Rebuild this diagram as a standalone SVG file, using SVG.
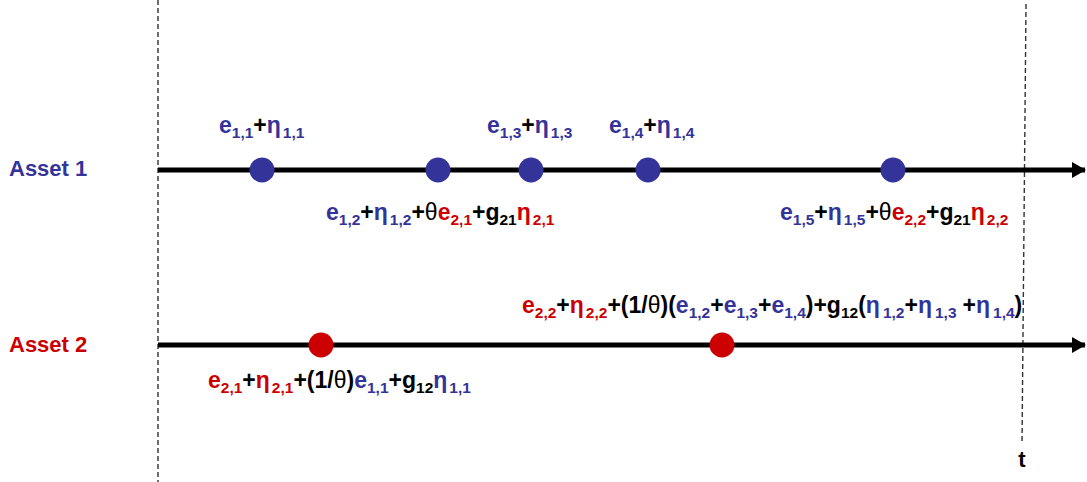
<svg xmlns="http://www.w3.org/2000/svg" width="1087" height="482" viewBox="0 0 1087 482">
<style>
text{font-family:"Liberation Sans",Arial,sans-serif;font-weight:bold;font-size:23px;fill:#000}
.lab{font-size:22px}
.b{fill:#333399}
.r{fill:#CC0000}
.k{fill:#000}
.s{font-size:15.5px}
.th{font-weight:normal}
.dot1{fill:#333399}
.dot2{fill:#CC0000}
.axis{stroke:#000;stroke-width:5;fill:none}
.guide{stroke:#333;stroke-width:1.4;stroke-dasharray:5 3;fill:none}
</style>
<defs>
<marker id="arr" markerWidth="14" markerHeight="16" refX="13" refY="8" orient="auto" markerUnits="userSpaceOnUse">
<path d="M0,0 L14,8 L0,16 Z" fill="#000"/>
</marker>
</defs>
<g id="guides">
<line class="guide" x1="158" y1="0" x2="158" y2="482"/>
<line class="guide" x1="1026" y1="4" x2="1022" y2="444"/>
</g>
<g id="connectors">
<line class="axis" x1="158" y1="170" x2="1085" y2="170" marker-end="url(#arr)"/>
<line class="axis" x1="158" y1="345" x2="1085" y2="345" marker-end="url(#arr)"/>
</g>
<g id="asset1-label"><text x="9" y="176" class="b lab">Asset 1</text></g>
<g id="asset2-label"><text x="9" y="352" class="r lab">Asset 2</text></g>
<g id="t-label"><text x="1022" y="467" text-anchor="middle" class="lab">t</text></g>

<g id="a1-p1">
<circle class="dot1" cx="262" cy="170" r="12.5"/>
<text x="219" y="133"><tspan class="b">e</tspan><tspan class="b s" dy="5">1,1</tspan><tspan dy="-5">+</tspan><tspan class="b">η</tspan><tspan class="b s" dy="5" dx="2">1,1</tspan></text>
</g>
<g id="a1-p2">
<circle class="dot1" cx="438" cy="170" r="12.5"/>
<text x="326" y="220"><tspan class="b">e</tspan><tspan class="b s" dy="5">1,2</tspan><tspan dy="-5">+</tspan><tspan class="b">η</tspan><tspan class="b s" dy="5" dx="2">1,2</tspan><tspan dy="-5">+</tspan><tspan class="th">θ</tspan><tspan class="r">e</tspan><tspan class="r s" dy="5">2,1</tspan><tspan dy="-5">+g</tspan><tspan class="s" dy="5">21</tspan><tspan class="r" dy="-5">η</tspan><tspan class="r s" dy="5" dx="2">2,1</tspan></text>
</g>
<g id="a1-p3">
<circle class="dot1" cx="531" cy="170" r="12.5"/>
<text x="487" y="133"><tspan class="b">e</tspan><tspan class="b s" dy="5">1,3</tspan><tspan dy="-5">+</tspan><tspan class="b">η</tspan><tspan class="b s" dy="5" dx="2">1,3</tspan></text>
</g>
<g id="a1-p4">
<circle class="dot1" cx="648" cy="170" r="12.5"/>
<text x="609" y="133"><tspan class="b">e</tspan><tspan class="b s" dy="5">1,4</tspan><tspan dy="-5">+</tspan><tspan class="b">η</tspan><tspan class="b s" dy="5" dx="2">1,4</tspan></text>
</g>
<g id="a1-p5">
<circle class="dot1" cx="893" cy="170" r="12.5"/>
<text x="780" y="220"><tspan class="b">e</tspan><tspan class="b s" dy="5">1,5</tspan><tspan dy="-5">+</tspan><tspan class="b">η</tspan><tspan class="b s" dy="5" dx="2">1,5</tspan><tspan dy="-5">+</tspan><tspan class="th">θ</tspan><tspan class="r">e</tspan><tspan class="r s" dy="5">2,2</tspan><tspan dy="-5">+g</tspan><tspan class="s" dy="5">21</tspan><tspan class="r" dy="-5">η</tspan><tspan class="r s" dy="5" dx="2">2,2</tspan></text>
</g>
<g id="a2-p1">
<circle class="dot2" cx="321" cy="345" r="12.5"/>
<text x="208" y="388"><tspan class="r">e</tspan><tspan class="r s" dy="5">2,1</tspan><tspan dy="-5">+</tspan><tspan class="r">η</tspan><tspan class="r s" dy="5" dx="2">2,1</tspan><tspan dy="-5">+(1/</tspan><tspan class="th">θ</tspan><tspan>)</tspan><tspan class="b">e</tspan><tspan class="b s" dy="5">1,1</tspan><tspan dy="-5">+g</tspan><tspan class="s" dy="5">12</tspan><tspan class="b" dy="-5">η</tspan><tspan class="b s" dy="5" dx="2">1,1</tspan></text>
</g>
<g id="a2-p2">
<circle class="dot2" cx="722" cy="345" r="12.5"/>
<text x="522" y="313"><tspan class="r">e</tspan><tspan class="r s" dy="5">2,2</tspan><tspan dy="-5">+</tspan><tspan class="r">η</tspan><tspan class="r s" dy="5" dx="2">2,2</tspan><tspan dy="-5">+(1/</tspan><tspan class="th">θ</tspan><tspan>)(</tspan><tspan class="b">e</tspan><tspan class="b s" dy="5">1,2</tspan><tspan dy="-5">+</tspan><tspan class="b">e</tspan><tspan class="b s" dy="5">1,3</tspan><tspan dy="-5">+</tspan><tspan class="b">e</tspan><tspan class="b s" dy="5">1,4</tspan><tspan dy="-5">)+g</tspan><tspan class="s" dy="5">12</tspan><tspan dy="-5">(</tspan><tspan class="b">η</tspan><tspan class="b s" dy="5" dx="3">1,2</tspan><tspan dy="-5">+</tspan><tspan class="b">η</tspan><tspan class="b s" dy="5" dx="3">1,3</tspan><tspan dy="-5" dx="6">+</tspan><tspan class="b">η</tspan><tspan class="b s" dy="5" dx="3">1,4</tspan><tspan dy="-5">)</tspan></text>
</g>
</svg>
